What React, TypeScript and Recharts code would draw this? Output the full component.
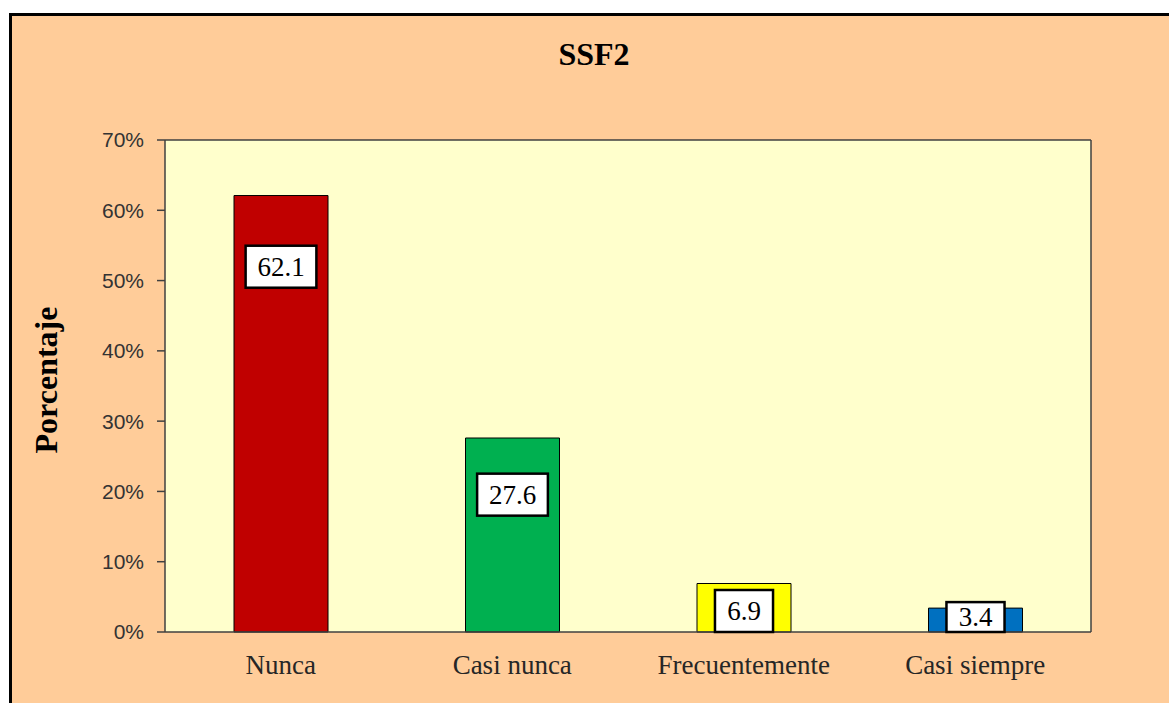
import { BarChart, Bar, XAxis, YAxis, CartesianGrid, Cell, LabelList } from 'recharts';

const categories = ['Nunca', 'Casi nunca', 'Frecuentemente', 'Casi siempre'];
const percentages = [62.1, 27.6, 6.9, 3.4];
const barColors = ['#C00000', '#00B050', '#FFFF00', '#0070C0'];
const yTicks = [0, 10, 20, 30, 40, 50, 60, 70];

const data = categories.map((name, i) => ({ name, value: percentages[i] }));

const axisColor = '#404040';
const serif = '"Liberation Serif", "Times New Roman", serif';

// white boxed value label, placed a little below the top of the bar
const ValueBox = (props: any) => {
    const x = Number(props.x);
    const y = Number(props.y);
    const width = Number(props.width);
    const height = Number(props.height);
    const text = Number(props.value).toFixed(1);
    const fontSize = 27;
    const boxW = text.length * fontSize * 0.47 + 20;
    const boxH = Math.min(42, height + 6);
    const bottom = y + height;
    const cy = Math.min(y + 45 + 0.06 * height, bottom - boxH / 2);
    const cx = x + width / 2;
    return (
        <g>
            <rect x={cx - boxW / 2} y={cy - boxH / 2} width={boxW} height={boxH} fill="#fff" stroke="#000" strokeWidth={2.5} />
            <text x={cx} y={cy} textAnchor="middle" dominantBaseline="central" fontFamily={serif} fontSize={fontSize} fill="#000">
                {text}
            </text>
        </g>
    );
};

export default function App() {
    return (
        <div style={{ position: 'absolute', left: 0, top: 0, width: 1169, height: 703, overflow: 'hidden' }}>
            <style>{`body{margin:0;overflow:hidden}`}</style>
            <div
                style={{
                    position: 'absolute',
                    left: 9,
                    top: 13,
                    width: 1200,
                    height: 720,
                    background: '#FFCC99',
                    borderLeft: '3px solid #000',
                    borderTop: '3px solid #000',
                }}
            />
            <div
                style={{
                    position: 'absolute',
                    left: 494,
                    width: 200,
                    top: 38,
                    textAlign: 'center',
                    fontFamily: serif,
                    fontWeight: 'bold',
                    fontSize: 32,
                    lineHeight: '32px',
                    color: '#000',
                }}
            >
                SSF2
            </div>
            <div
                style={{
                    position: 'absolute',
                    left: 46,
                    top: 380,
                    transform: 'translate(-50%, -50%) rotate(-90deg)',
                    fontFamily: serif,
                    fontWeight: 'bold',
                    fontSize: 32,
                    lineHeight: '32px',
                    whiteSpace: 'nowrap',
                    color: '#000',
                }}
            >
                Porcentaje
            </div>
            <div style={{ position: 'absolute', left: 0, top: 0 }}>
                <BarChart width={1169} height={703} data={data} margin={{ top: 140, right: 78, left: 105, bottom: 21 }}>
                    <CartesianGrid
                        fill="#FFFFCC"
                        stroke={axisColor}
                        strokeWidth={1.5}
                        horizontalCoordinatesGenerator={({ offset }: any) => [offset.top]}
                        verticalCoordinatesGenerator={({ offset }: any) => [offset.left + offset.width]}
                    />
                    <XAxis
                        dataKey="name"
                        height={50}
                        tickLine={false}
                        tickSize={0}
                        tickMargin={23}
                        axisLine={{ stroke: axisColor, strokeWidth: 1.5 }}
                        tick={{ fontFamily: serif, fontSize: 27, fill: '#262626' }}
                        interval={0}
                    />
                    <YAxis
                        width={60}
                        domain={[0, 70]}
                        ticks={yTicks}
                        tickFormatter={(v: number) => `${v}%`}
                        tickSize={8}
                        tickMargin={13}
                        tickLine={{ stroke: axisColor, strokeWidth: 1.5 }}
                        axisLine={{ stroke: axisColor, strokeWidth: 1.5 }}
                        tick={{ fontFamily: '"Liberation Sans", Arial, sans-serif', fontSize: 21, fill: '#333' }}
                    />
                    <Bar dataKey="value" barSize={94} stroke="#000" strokeWidth={1} isAnimationActive={false}>
                        {data.map((d, i) => (
                            <Cell key={d.name} fill={barColors[i]} />
                        ))}
                        <LabelList dataKey="value" content={<ValueBox />} />
                    </Bar>
                </BarChart>
            </div>
        </div>
    );
}
